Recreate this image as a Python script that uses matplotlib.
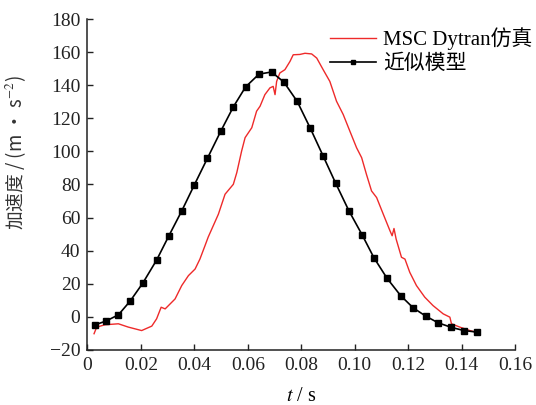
import matplotlib
matplotlib.use("Agg")
import matplotlib.pyplot as plt

plt.rcParams['font.family'] = ['Liberation Serif', 'Noto Sans CJK SC', 'DejaVu Sans']
plt.rcParams['mathtext.fontset'] = 'stix'

# Approximate model (black, square markers)
model_t = [0.0029, 0.0069, 0.0116, 0.0160, 0.0207, 0.0259, 0.0305, 0.0353, 0.0400, 0.0449,
           0.0499, 0.0546, 0.0592, 0.0642, 0.0689, 0.0735, 0.0785, 0.0833, 0.0882, 0.0929,
           0.0978, 0.1028, 0.1072, 0.1121, 0.1172, 0.1219, 0.1266, 0.1312, 0.1362, 0.1409, 0.1456]
model_a = [-4.8, -2.6, 1.2, 9.5, 20.3, 34.3, 49.0, 64.0, 79.7, 95.8,
           112.2, 126.9, 139.0, 146.7, 148.0, 141.9, 130.2, 114.3, 97.2, 80.7,
           64.2, 49.5, 35.7, 23.3, 12.8, 5.4, 0.4, -3.6, -6.4, -8.3, -9.2]

# MSC Dytran simulation (red)
sim_t = [0.0025, 0.0035, 0.0066, 0.0116, 0.0153, 0.0203, 0.0241, 0.0259, 0.0276, 0.0291,
         0.0328, 0.0353, 0.0378, 0.0403, 0.0421, 0.0440, 0.0452, 0.0490, 0.0515, 0.0546,
         0.0559, 0.0577, 0.0590, 0.0615, 0.0633, 0.0646, 0.0664, 0.0683, 0.0695, 0.0702,
         0.0708, 0.0720, 0.0739, 0.0758, 0.0770, 0.0795, 0.0814, 0.0839, 0.0858, 0.0882,
         0.0907, 0.0932, 0.0957, 0.0982, 0.1007, 0.1026, 0.1044, 0.1063, 0.1082, 0.1107,
         0.1132, 0.1140, 0.1147, 0.1155, 0.1175, 0.1188, 0.1206, 0.1231, 0.1262, 0.1293,
         0.1331, 0.1356, 0.1362, 0.1393, 0.1431, 0.1462]
sim_a = [-10.2, -6.2, -4.8, -4.2, -6.2, -8.3, -5.6, -1.2, 5.8, 4.8,
         10.8, 18.9, 24.9, 28.9, 34.9, 43.0, 48.2, 62.0, 74.1, 80.1,
         87.2, 100.2, 108.3, 114.3, 124.3, 127.3, 134.3, 138.4, 139.3, 134.3,
         142.3, 147.4, 149.4, 154.4, 158.4, 158.6, 159.3, 158.9, 156.4, 149.4,
         142.3, 130.3, 122.3, 112.2, 102.2, 96.2, 86.1, 76.1, 72.1, 62.0,
         52.0, 49.0, 53.4, 47.0, 36.0, 34.9, 26.9, 18.9, 11.9, 6.8,
         1.8, -0.2, -4.2, -6.2, -8.3, -9.6]

x_ticks = [0, 0.02, 0.04, 0.06, 0.08, 0.10, 0.12, 0.14, 0.16]
x_labels = ['0', '0.02', '0.04', '0.06', '0.08', '0.10', '0.12', '0.14', '0.16']
y_ticks = [-20, 0, 20, 40, 60, 80, 100, 120, 140, 160, 180]
y_labels = ['\u221220', '0', '20', '40', '60', '80', '100', '120', '140', '160', '180']

fig = plt.figure(figsize=(5.36, 4.05), dpi=100)
ax = fig.add_axes([0.163, 0.136, 0.798, 0.817])

ax.plot(sim_t, sim_a, color='#ee2a2a', lw=1.0, label='MSC Dytran仿真')
ax.plot(model_t, model_a, color='black', lw=1.2, marker='s', markersize=5,
        label='近似模型')

ax.set_xlim(0, 0.16)
ax.set_ylim(-20, 180)
ax.set_xticks(x_ticks)
ax.set_xticklabels(x_labels)
ax.set_yticks(y_ticks)
ax.set_yticklabels(y_labels)
ax.tick_params(direction='in', length=4, width=1, labelsize=14, pad=5, colors='#222222')
for s in ['top', 'right']:
    ax.spines[s].set_visible(False)
for s in ['left', 'bottom']:
    ax.spines[s].set_linewidth(1.1)
    ax.spines[s].set_color('#222222')

ax.set_xlabel('$t$ / s', fontsize=14.5)
ax.xaxis.set_label_coords(0.5, -0.112)
ax.set_ylabel('加速度 / (m • s$^{-2}$)', fontsize=13.5,
              family=['Noto Sans CJK SC', 'DejaVu Sans'], color='#333333')
ax.yaxis.set_label_coords(-0.138, 0.598)

leg = ax.legend(loc='upper left', bbox_to_anchor=(0.567, 0.975), frameon=False,
                fontsize=15, handlelength=2.2, handletextpad=0.35,
                labelspacing=0.2, borderaxespad=0.0, borderpad=0.0, markerscale=0.6)

fig.savefig('out.png', dpi=100, facecolor='white')
